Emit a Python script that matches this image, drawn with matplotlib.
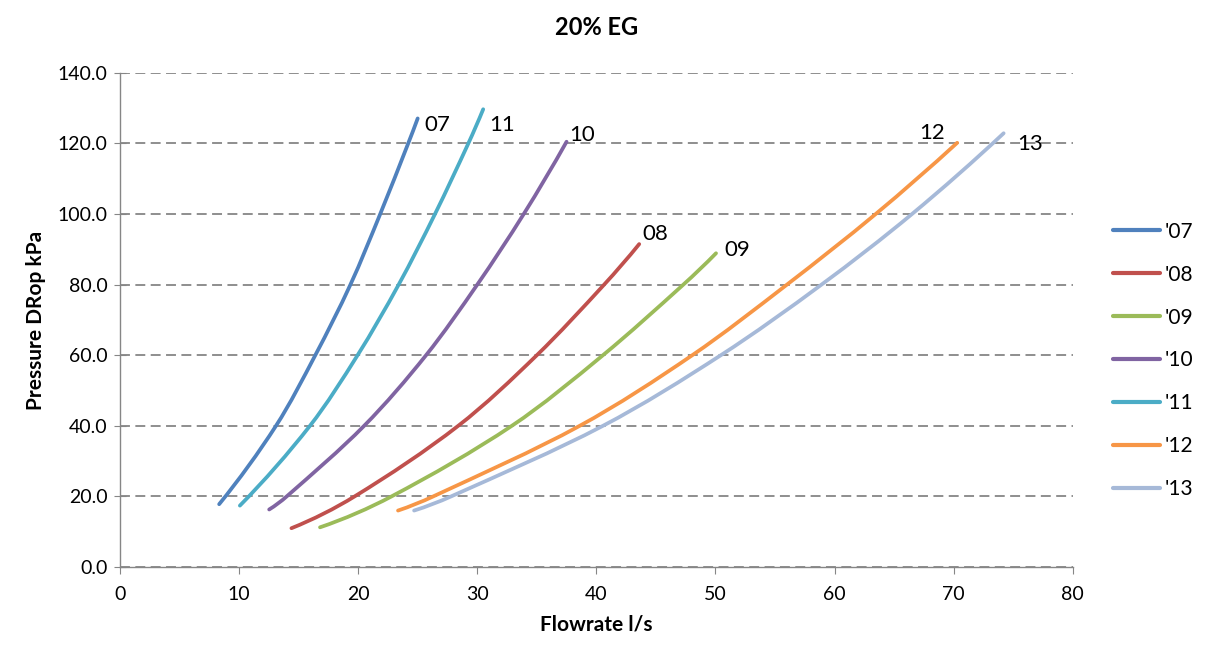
import numpy as np
import matplotlib
matplotlib.use("Agg")
import matplotlib.pyplot as plt
from matplotlib.path import Path
from matplotlib.patches import PathPatch
from matplotlib.lines import Line2D

plt.rcParams['font.family'] = ['Lato', 'DejaVu Sans']

# Flow rate (l/s) and pressure drop (kPa) for each unit
flow_07 = [8.33, 13.1, 16.4, 19.35, 21.85, 24.2, 25.0]
dp_07 = [17.8, 40.0, 60.0, 80.0, 100.0, 120.0, 127.1]

flow_08 = [14.4, 19.7, 28.4, 35.0, 40.65, 43.6]
dp_08 = [11.0, 20.0, 40.0, 60.0, 80.0, 91.5]

flow_09 = [16.8, 22.8, 32.9, 40.55, 47.3, 50.05]
dp_09 = [11.25, 20.0, 40.0, 60.0, 80.0, 88.9]

flow_10 = [12.53, 14.0, 20.5, 25.7, 30.0, 33.9, 37.5]
dp_10 = [16.3, 20.0, 40.0, 60.0, 80.0, 100.0, 120.5]

flow_11 = [10.07, 15.95, 19.95, 23.4, 26.45, 29.25, 30.5]
dp_11 = [17.4, 40.0, 60.0, 80.0, 100.0, 120.0, 129.7]

flow_12 = [23.35, 26.3, 38.6, 48.05, 56.0, 63.45, 70.3]
dp_12 = [16.0, 20.0, 40.0, 60.0, 80.0, 100.0, 120.2]

flow_13 = [24.7, 27.8, 40.55, 50.45, 58.9, 66.5, 74.2]
dp_13 = [16.0, 20.0, 40.0, 60.0, 80.0, 100.0, 122.9]

series_names = ["'07", "'08", "'09", "'10", "'11", "'12", "'13"]
end_labels = ["07", "08", "09", "10", "11", "12", "13"]
x_ticks = [0, 10, 20, 30, 40, 50, 60, 70, 80]
y_ticks = [0, 20, 40, 60, 80, 100, 120, 140]

flows = [flow_07, flow_08, flow_09, flow_10, flow_11, flow_12, flow_13]
drops = [dp_07, dp_08, dp_09, dp_10, dp_11, dp_12, dp_13]
colors = ["#4F81BD", "#C0504D", "#9BBB59", "#8064A2", "#4BACC6", "#F79646", "#A6B9D8"]
# end-label placement: offset in points from the last point, and alignment
label_offsets = [(5, -5), (2, 7), (6, 2), (2, 5), (4.3, -11.5), (-8.5, 7), (10, -7.5)]
label_ha = ['left', 'left', 'left', 'left', 'left', 'right', 'left']

fig = plt.figure(figsize=(12.08, 6.51), dpi=100)
ax = fig.add_axes([0.0993, 0.129, 0.7887, 0.759])
ax.set_xlim(0, 80)
ax.set_ylim(0, 140)


def smooth_path(x, y):
    """Smoothed line through the points (chord-length Catmull-Rom as Bezier segments)."""
    P = np.column_stack([x, y]).astype(float)
    D = ax.transData.transform(P)
    seg = np.hypot(*np.diff(D, axis=0).T)
    t = np.concatenate([[0.0], np.cumsum(seg)])
    n = len(P)
    T = np.zeros_like(P)
    for i in range(1, n - 1):
        T[i] = (P[i + 1] - P[i - 1]) / (t[i + 1] - t[i - 1])
    # end tangents keep the curvature of the neighbouring segment
    T[0] = 2 * (P[1] - P[0]) / (t[1] - t[0]) - T[1]
    T[-1] = 2 * (P[-1] - P[-2]) / (t[-1] - t[-2]) - T[-2]
    verts = [P[0]]
    codes = [Path.MOVETO]
    for i in range(n - 1):
        h = t[i + 1] - t[i]
        verts += [P[i] + T[i] * h / 3, P[i + 1] - T[i + 1] * h / 3, P[i + 1]]
        codes += [Path.CURVE4] * 3
    return Path(verts, codes)


handles = []
for x, y, c, name, lab, off, ha in zip(flows, drops, colors, series_names,
                                        end_labels, label_offsets, label_ha):
    ax.add_patch(PathPatch(smooth_path(x, y), fill=False, edgecolor=c, lw=2.7,
                           capstyle='round', zorder=3))
    handles.append(Line2D([], [], color=c, lw=3, solid_capstyle='round', label=name))
    ax.annotate(lab, (x[-1], y[-1]), xytext=off, textcoords='offset points',
                fontsize=16, ha=ha, va='center', color='black')

ax.set_xticks(x_ticks)
ax.set_yticks(y_ticks)
ax.set_yticklabels([f"{v:.1f}" for v in y_ticks])
ax.tick_params(axis='both', labelsize=14, colors='#868686', labelcolor='black')
ax.tick_params(axis='x', direction='out', length=5, pad=9)
ax.tick_params(axis='y', direction='inout', length=8, pad=5)

ax.grid(axis='y', linestyle=(0, (5.5, 3)), color='#868686', lw=1.3)
ax.set_axisbelow(True)
for s in ['top', 'right']:
    ax.spines[s].set_visible(False)
for s in ['left', 'bottom']:
    ax.spines[s].set_color('#868686')
    ax.spines[s].set_linewidth(1.0)

ax.set_title("20% EG", fontsize=17, fontweight='bold', pad=27)
ax.set_xlabel("Flowrate l/s", fontsize=15, fontweight='bold', labelpad=8)
ax.set_ylabel("Pressure DRop kPa", fontsize=15, fontweight='bold', labelpad=8)

fig.legend(handles=handles, loc='center left', bbox_to_anchor=(1094 / 1208, 1 - 360.5 / 651),
           bbox_transform=fig.transFigure, frameon=False, fontsize=15,
           handlelength=2.25, labelspacing=1.1, handletextpad=0.25)

fig.savefig("out.png", dpi=100)
